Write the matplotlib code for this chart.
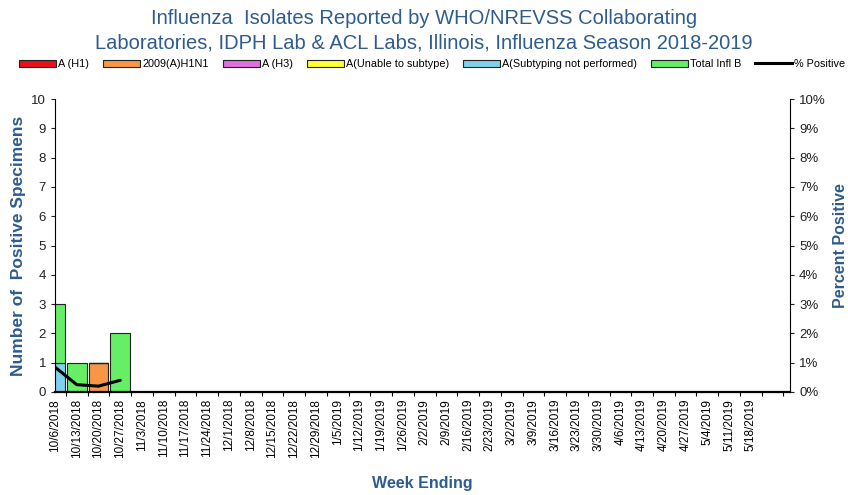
import numpy as np
import matplotlib
matplotlib.use("Agg")
import matplotlib.pyplot as plt
from matplotlib.patches import Patch
from matplotlib.lines import Line2D

plt.rcParams['font.family'] = ['Liberation Sans', 'DejaVu Sans']

weeks = ["10/6/2018", "10/13/2018", "10/20/2018", "10/27/2018", "11/3/2018",
         "11/10/2018", "11/17/2018", "11/24/2018", "12/1/2018", "12/8/2018",
         "12/15/2018", "12/22/2018", "12/29/2018", "1/5/2019", "1/12/2019",
         "1/19/2019", "1/26/2019", "2/2/2019", "2/9/2019", "2/16/2019",
         "2/23/2019", "3/2/2019", "3/9/2019", "3/16/2019", "3/23/2019",
         "3/30/2019", "4/6/2019", "4/13/2019", "4/20/2019", "4/27/2019",
         "5/4/2019", "5/11/2019", "5/18/2019"]
n = len(weeks)

a_h1 = [0] * n
a_2009 = [0, 0, 1, 0] + [0] * (n - 4)
a_h3 = [0] * n
a_unable = [0] * n
a_notsub = [1, 0, 0, 0] + [0] * (n - 4)
total_b = [2, 1, 0, 2] + [0] * (n - 4)
pct_pos = [0.85, 0.25, 0.2, 0.4]  # percent, only reported weeks

series = [
    ("A (H1)", a_h1, "#E8101A"),
    ("2009(A)H1N1", a_2009, "#F79646"),
    ("A (H3)", a_h3, "#E070E0"),
    ("A(Unable to subtype)", a_unable, "#FFFF33"),
    ("A(Subtyping not performed)", a_notsub, "#7FD0EA"),
    ("Total Infl B", total_b, "#66EE66"),
]

blue = "#2E5C8E"
W, H = 848, 495
fig = plt.figure(figsize=(W / 100, H / 100), dpi=100)
ax = fig.add_axes([55 / W, 1 - 392 / H, (790 - 55) / W, (392 - 99) / H])

x = np.arange(n)
bottom = np.zeros(n)
handles = []
for name, vals, col in series:
    vals = np.array(vals, dtype=float)
    ax.bar(x, vals, width=0.9, bottom=bottom, color=col,
           edgecolor="#222222", linewidth=0.8, zorder=2)
    bottom += vals
    handles.append(Patch(facecolor=col, edgecolor="#222222", linewidth=0.8, label=name))

ax.set_xlim(0, 33.8)
ax.set_ylim(0, 10)
ax.set_yticks(range(0, 11))
ax.tick_params(axis="y", labelsize=9.5, length=3, width=0.8, colors="#222222")
ax.set_xticks(x)
ax.set_xticklabels(weeks, rotation=90, fontsize=8.5)
ax.set_xticks(np.arange(0.5, 34, 1), minor=True)
ax.tick_params(axis="x", which="major", length=0, pad=5)
ax.tick_params(axis="x", which="minor", length=3, width=0.8)
for s in ["top", "right"]:
    ax.spines[s].set_visible(False)
ax.spines["left"].set_linewidth(0.8)
ax.spines["bottom"].set_linewidth(1.6)
ax.set_ylabel("Number of  Positive Specimens", fontsize=12.5, fontweight="bold",
              color=blue, labelpad=4)
ax.set_xlabel("Week Ending", fontsize=11.5, fontweight="bold", color=blue, labelpad=13)

ax2 = ax.twinx()
ax2.set_ylim(0, 0.10)
ax2.set_yticks(np.arange(0, 0.101, 0.01))
ax2.set_yticklabels([f"{i}%" for i in range(11)])
ax2.tick_params(axis="y", labelsize=9.5, length=3, width=0.8, colors="#222222")
for s in ["top", "left", "bottom"]:
    ax2.spines[s].set_visible(False)
ax2.spines["right"].set_linewidth(0.8)
ax2.plot(x[:len(pct_pos)], np.array(pct_pos) / 100, color="black", linewidth=2.2,
         solid_joinstyle="round", solid_capstyle="round", zorder=3)
ax2.set_ylabel("Percent Positive", fontsize=11.5, fontweight="bold", color=blue,
               labelpad=5)
handles.append(Line2D([0], [0], color="black", linewidth=2.2, label="% Positive"))

fig.text(0.5, 1 - 18 / H, "Influenza  Isolates Reported by WHO/NREVSS Collaborating",
         ha="center", va="center", fontsize=14.5, color=blue)
fig.text(0.5, 1 - 43 / H,
         "Laboratories, IDPH Lab & ACL Labs, Illinois, Influenza Season 2018-2019",
         ha="center", va="center", fontsize=14.5, color=blue)

fig.legend(handles=handles, loc="center", bbox_to_anchor=(0.51, 1 - 64 / H),
           ncol=7, frameon=False, fontsize=7.8, handlelength=3.4, handleheight=0.6,
           handletextpad=0.2, columnspacing=1.3, borderaxespad=0)

fig.savefig("out.png", dpi=100)
